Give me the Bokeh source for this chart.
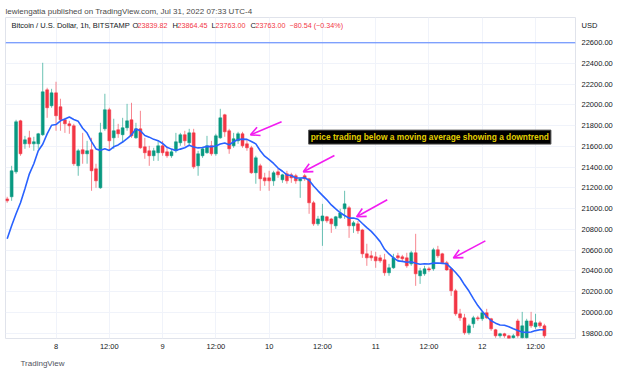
from bokeh.plotting import figure
from bokeh.models import (Range1d, FixedTicker, NumeralTickFormatter, Span, Label,
                          Arrow, OpenHead, ColumnDataSource, Title)
from bokeh.embed import file_html
from bokeh.resources import INLINE

# ---- data (1h candles, BTC/USD Bitstamp, from Jul 7 13:00) ----
opens = [21094, 21114, 21355, 21847, 21625, 21683, 21625, 21625, 21713, 22146,
         21992, 22117, 21983, 21857, 21818, 21799, 21413, 21568, 21529, 21568,
         21384, 21201, 21770, 21954, 21683, 21761, 21713, 21780, 21857, 21683,
         21770, 21596, 21558, 21510, 21539, 21606, 21548, 21510, 21558, 21635,
         21713, 21635, 21731, 21413, 21510, 21539, 21606, 21529, 21683, 21905,
         21751, 21606, 21654, 21722, 21625, 21587, 21346, 21413, 21297, 21297,
         21268, 21355, 21278, 21336, 21326, 21317, 21268, 21317, 21288, 21056,
         20853, 20882, 20921, 20901, 20834, 20911, 20998, 21008, 20834, 20853,
         20795, 20564, 20545, 20535, 20525, 20506, 20381, 20429, 20545, 20535,
         20525, 20467, 20574, 20352, 20371, 20419, 20419, 20603, 20564, 20477,
         20419, 20207, 19985, 19946, 19802, 19889, 19946, 19937, 19995, 19937,
         19831, 19773, 19792, 19773, 19754, 19917, 19754, 19754, 19917, 19860,
         19898, 19869]
highs = [21114, 21413, 21857, 21857, 21702, 21751, 21693, 21731, 22407, 22166,
         22156, 22224, 22060, 21876, 21847, 21818, 21577, 21731, 21654, 21683,
         21433, 21828, 22108, 21973, 21867, 21818, 21876, 22011, 22021, 21828,
         21944, 21683, 21606, 21587, 21654, 21654, 21587, 21577, 21731, 21731,
         21751, 21770, 21770, 21558, 21596, 21702, 21654, 21722, 21963, 21915,
         21770, 21731, 21741, 21741, 21674, 21606, 21510, 21433, 21346, 21365,
         21365, 21384, 21336, 21365, 21346, 21336, 21297, 21336, 21297, 21075,
         20930, 21046, 20930, 20911, 20930, 20998, 21172, 21027, 20882, 20882,
         20805, 20661, 20593, 20583, 20554, 20564, 20467, 20564, 20574, 20554,
         20574, 20593, 20757, 20429, 20448, 20438, 20622, 20641, 20574, 20496,
         20429, 20226, 20033, 19985, 19889, 19966, 19966, 20014, 20033, 19946,
         19840, 19802, 19802, 19783, 19792, 19937, 20004, 19937, 20004, 19985,
         19917, 19889]
lows = [21056, 21075, 21336, 21510, 21577, 21587, 21558, 21577, 21702, 21876,
        21973, 21751, 21751, 21731, 21722, 21413, 21317, 21433, 21433, 21172,
        21201, 21191, 21751, 21558, 21577, 21683, 21635, 21751, 21683, 21674,
        21577, 21481, 21413, 21461, 21461, 21510, 21490, 21490, 21539, 21606,
        21606, 21606, 21384, 21317, 21490, 21529, 21510, 21510, 21674, 21693,
        21529, 21587, 21625, 21587, 21558, 21336, 21240, 21172, 21220, 21172,
        21220, 21297, 21249, 21240, 21249, 21240, 21104, 21268, 20950, 20834,
        20834, 20641, 20863, 20766, 20805, 20901, 20901, 20718, 20766, 20757,
        20525, 20448, 20496, 20429, 20477, 20352, 20352, 20419, 20496, 20487,
        20429, 20448, 20255, 20274, 20352, 20390, 20400, 20525, 20467, 20400,
        20158, 19966, 19917, 19783, 19783, 19850, 19917, 19917, 19937, 19821,
        19754, 19754, 19754, 19725, 19725, 19754, 19744, 19744, 19850, 19840,
        19850, 19754]
closes = [21075, 21365, 21838, 21529, 21664, 21625, 21645, 21722, 22127, 21973,
          22117, 21896, 21857, 21818, 21799, 21433, 21558, 21529, 21558, 21365,
          21268, 21731, 21954, 21654, 21751, 21722, 21780, 21847, 21702, 21770,
          21587, 21539, 21510, 21558, 21606, 21539, 21510, 21548, 21645, 21713,
          21654, 21731, 21403, 21529, 21577, 21606, 21529, 21702, 21876, 21741,
          21577, 21674, 21722, 21606, 21587, 21346, 21490, 21288, 21268, 21268,
          21346, 21326, 21326, 21268, 21297, 21268, 21288, 21288, 21056, 20853,
          20901, 20930, 20882, 20853, 20921, 20959, 21046, 20834, 20863, 20786,
          20564, 20525, 20525, 20496, 20496, 20381, 20429, 20525, 20525, 20516,
          20448, 20574, 20371, 20400, 20419, 20409, 20603, 20545, 20477, 20409,
          20207, 19985, 19946, 19802, 19869, 19946, 19937, 19995, 19946, 19840,
          19773, 19792, 19773, 19744, 19773, 19773, 19869, 19917, 19869, 19898,
          19869, 19773]
# moving average values read at the first candles (history before the view)
ma_head = [20710, 20834, 20950, 21056, 21191, 21336, 21433, 21558]
ma_period = 9

x_tick_idx = [11, 23, 35, 47, 59, 71, 83, 95, 107, 119]
x_tick_lbl = ["8", "12:00", "9", "12:00", "10", "12:00", "11", "12:00", "12", "12:00"]
y_ticks = list(range(19800, 22601, 200))
usd_tick = 22767
hline_price = 22600

# arrows: (tail index, tail price) -> (head index, head price)
arr_x0 = [61.8, 73.7, 85.6, 107.7]
arr_y0 = [21838, 21512, 21085, 20689]
arr_x1 = [54.8, 66.7, 78.7, 100.5]
arr_y1 = [21712, 21355, 20921, 20525]

note_text = "price trading below a moving average showing a downtrend"
note_x, note_y = 67.9, 21690

header = "lewiengatia published on TradingView.com, Jul 31, 2022 07:33 UTC-4"
footer = "TradingView"

# ---- derived ----
n = len(closes)
idx = list(range(n))
ma = ma_head + [sum(closes[i - ma_period + 1:i + 1]) / ma_period
                for i in range(len(ma_head), n)]
up = [c >= o for o, c in zip(opens, closes)]

GREEN = "#089981"
RED = "#f23645"
TXT = "#131722"
FONT = "Liberation Sans"

def sub(mask):
    return ColumnDataSource(dict(
        x=[i for i, m in zip(idx, mask) if m],
        o=[v for v, m in zip(opens, mask) if m],
        h=[v for v, m in zip(highs, mask) if m],
        l=[v for v, m in zip(lows, mask) if m],
        c=[v for v, m in zip(closes, mask) if m],
    ))

src_up = sub(up)
src_dn = sub([not u for u in up])

p = figure(width=624, height=379, output_backend="svg", toolbar_location=None,
           x_range=Range1d(-0.38, 128.0), y_range=Range1d(19747, 22844),
           y_axis_location="right",
           min_border_left=5, min_border_right=49, min_border_top=17, min_border_bottom=41,
           background_fill_color="white", border_fill_color="white")
p.outline_line_color = "#e0e3eb"

# header as title
p.title.text = header
p.title.align = "left"
p.title.text_font = FONT
p.title.text_font_size = "8px"
p.title.text_font_style = "normal"
p.title.text_color = "#4a4a4a"
p.title.standoff = 4

# footer
p.add_layout(Title(text=footer, align="left", offset=15, text_font=FONT,
                   text_font_size="8px", text_font_style="normal",
                   text_color="#50535e", standoff=6), "below")

# axes
p.xaxis.ticker = FixedTicker(ticks=x_tick_idx)
p.xaxis.major_label_overrides = {t: s for t, s in zip(x_tick_idx, x_tick_lbl)}
p.yaxis.ticker = FixedTicker(ticks=y_ticks + [usd_tick])
p.yaxis.formatter = NumeralTickFormatter(format="0.00")
p.yaxis.major_label_overrides = {usd_tick: "USD"}
for ax in (p.xaxis, p.yaxis):
    ax.axis_line_color = None
    ax.major_tick_line_color = None
    ax.minor_tick_line_color = None
    ax.major_tick_out = 0
    ax.major_tick_in = 0
    ax.minor_tick_out = 0
    ax.major_label_text_font = FONT
    ax.major_label_text_font_size = "7.5px"
    ax.major_label_text_color = TXT
p.yaxis.major_label_standoff = 6
p.xaxis.major_label_standoff = 3
p.xgrid.ticker = FixedTicker(ticks=x_tick_idx)
p.ygrid.ticker = FixedTicker(ticks=y_ticks)
p.xgrid.grid_line_color = "#f0f3fa"
p.ygrid.grid_line_color = "#f0f3fa"

# horizontal line
p.add_layout(Span(location=hline_price, dimension="width", line_color="#2962ff",
                  line_width=1, line_alpha=0.8))

# candles
for src, col in ((src_up, GREEN), (src_dn, RED)):
    p.segment(x0="x", y0="h", x1="x", y1="l", source=src, line_color=col,
              line_width=1, line_alpha=0.6)
    p.vbar(x="x", width=0.66, top="o", bottom="c", source=src, fill_color=col,
           line_color=col, line_width=0.5)

# moving average
p.line(idx, ma, line_color="#2962ff", line_width=1.6)

# arrows
asrc = ColumnDataSource(dict(x0=arr_x0, y0=arr_y0, x1=arr_x1, y1=arr_y1))
p.add_layout(Arrow(x_start="x0", y_start="y0", x_end="x1", y_end="y1", source=asrc,
                   line_color="#f21df0", line_width=1.6,
                   end=OpenHead(size=9, line_color="#f21df0", line_width=1.6)))

# note
p.add_layout(Label(x=note_x, y=note_y, text=note_text, text_font=FONT,
                   text_font_size="8.4px", text_font_style="bold", text_color="#e3cf00",
                   text_baseline="middle", background_fill_color="black",
                   border_line_color="#555555", padding=2))

# legend texts (screen units relative to the frame)
def lab(x, y, t, color=TXT, size="7.5px", style="normal"):
    p.add_layout(Label(x=x, y=y, x_units="screen", y_units="screen", text=t,
                       text_font=FONT, text_font_size=size, text_color=color,
                       text_font_style=style, text_baseline="middle"))

lab(6, 313, "Bitcoin / U.S. Dollar, 1h, BITSTAMP")
lab(127, 313, "O")
lab(132, 313, "23839.82", RED, "7.2px")
lab(167, 313, "H")
lab(172, 313, "23864.45", RED, "7.2px")
lab(206, 313, "L")
lab(210, 313, "23763.00", RED, "7.2px")
lab(245, 313, "C")
lab(250, 313, "23763.00", RED, "7.2px")
lab(284, 313, "\u221280.54 (\u22120.34%)", RED, "7.2px")

open("out.html", "w").write(file_html(p, INLINE))
